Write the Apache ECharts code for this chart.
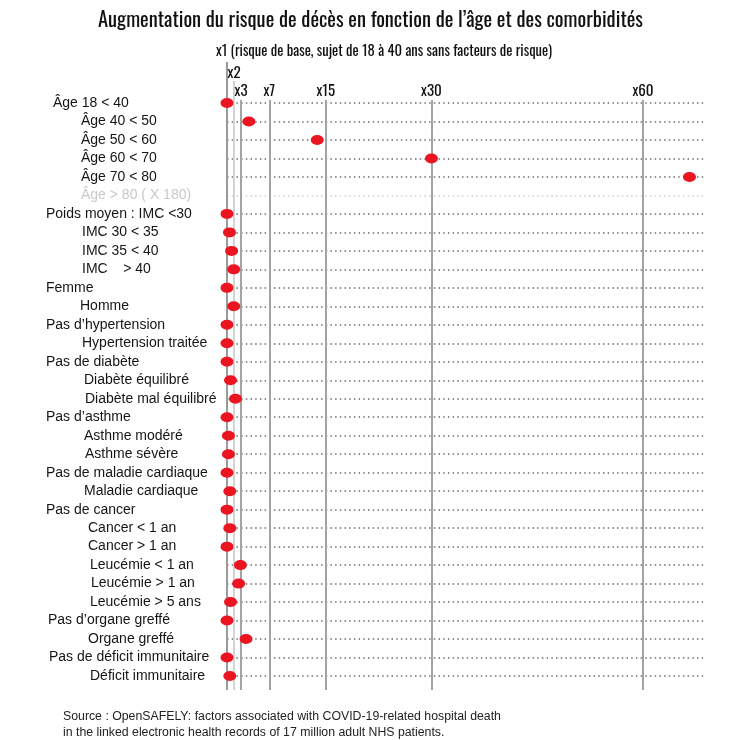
<!DOCTYPE html>
<html><head><meta charset="utf-8">
<script src="https://cdn.jsdelivr.net/npm/echarts@6/dist/echarts.min.js"></script>
<style>html,body{margin:0;padding:0;background:#fff}#c{width:730px;height:740px}</style>
</head><body><div id="c"></div>
<script>
// ---------- data ----------
const categories = [
  'Âge 18 < 40', 'Âge 40 < 50', 'Âge 50 < 60', 'Âge 60 < 70', 'Âge 70 < 80', 'Âge > 80 ( X 180)',
  'Poids moyen : IMC <30', 'IMC 30 < 35', 'IMC 35 < 40', 'IMC    > 40',
  'Femme', 'Homme',
  'Pas d’hypertension', 'Hypertension traitée',
  'Pas de diabète', 'Diabète équilibré', 'Diabète mal équilibré',
  'Pas d’asthme', 'Asthme modéré', 'Asthme sévère',
  'Pas de maladie cardiaque', 'Maladie cardiaque',
  'Pas de cancer', 'Cancer < 1 an', 'Cancer > 1 an',
  'Leucémie < 1 an', 'Leucémie > 1 an', 'Leucémie > 5 ans',
  'Pas d’organe greffé', 'Organe greffé',
  'Pas de déficit immunitaire', 'Déficit immunitaire'
];
// risk multiplier (x1 = baseline); null = off the chart (Âge > 80 = x180)
const riskValues = [
  1.0, 4.1, 13.8, 30, 66.6, null,
  1.0, 1.35, 1.65, 1.95,
  1.0, 1.95,
  1.0, 1.0,
  1.0, 1.5, 2.2,
  1.0, 1.2, 1.2,
  1.0, 1.4,
  1.0, 1.4, 1.0,
  2.9, 2.65, 1.5,
  1.0, 3.7,
  1.0, 1.4
];
const refLineValues = [1, 2, 3, 7, 15, 30, 60];
const refLineLabels = ['x1 (risque de base, sujet de 18 à 40 ans sans facteurs de risque)', 'x2', 'x3', 'x7', 'x15', 'x30', 'x60'];
const titleText = 'Augmentation du risque de décès en fonction de l’âge et des comorbidités';
const sourceText = 'Source : OpenSAFELY: factors associated with COVID-19-related hospital death\nin the linked electronic health records of 17 million adult NHS patients.';

// ---------- layout / style ----------
const labelIndent = [7,35,35,35,35,35, 0,36,36,36, 0,34, 0,36, 0,38,39, 0,38,39, 0,38, 0,42,42, 44,45,44, 2,42, 3,44];
const mutedRows = [5];
const condensed = "'Oswald','Liberation Sans Narrow','DejaVu Sans Condensed','Roboto Condensed',sans-serif";
const sans = "'Liberation Sans','Arial','Helvetica',sans-serif";
const xMin = 1, xMax = 69;
const lineTop = {1: -2.22, 2: -1.19};
const lineTopDefault = -0.16, lineBottom = 31.76;
const refLineColor = {1: '#9a9a9a', 2: '#d4d4d4'};

const rich = {};
categories.forEach((c, i) => {
  rich['r' + i] = {
    padding: [0, 0, 0, labelIndent[i]],
    color: mutedRows.includes(i) ? '#c9c9c9' : '#151515',
    fontSize: 14, fontFamily: sans
  };
});

const points = [];
riskValues.forEach((v, i) => { if (v !== null) points.push([v, i]); });

const rowLines = categories.map((c, i) => [
  { coord: [xMin, i], lineStyle: { color: mutedRows.includes(i) ? '#cfcfcf' : '#6e6e6e', type: [1.5, 3.2], width: 1.5, cap: 'butt' }, label: { show: false } },
  { coord: [xMax, i] }
]);
const vLines = refLineValues.map((v, k) => [
  {
    coord: [v, lineBottom],
    lineStyle: { color: refLineColor[v] || '#a3a3a3', type: 'solid', width: 2 },
    label: {
      show: k > 0, position: 'end', formatter: refLineLabels[k],
      color: '#111', fontFamily: condensed, fontSize: 15, distance: v === 2 ? 0 : 1
    }
  },
  { coord: [v, lineTop[v] !== undefined ? lineTop[v] : lineTopDefault] }
]);

const chart = echarts.init(document.getElementById('c'), null, { renderer: 'canvas' });
const option = {
  backgroundColor: '#ffffff',
  animation: false,
  title: [
    { text: titleText, left: 93, top: 5,
      textStyle: { fontFamily: condensed, fontSize: 20.5, fontWeight: 'normal', color: '#111' } },
    { text: sourceText, left: 58, top: 704,
      textStyle: { fontFamily: sans, fontSize: 12.3, fontWeight: 'normal', color: '#222', lineHeight: 16 } }
  ],
  grid: { left: 227, right: 23.6, top: 47.55, bottom: 45.5, containLabel: false },
  xAxis: {
    type: 'value', min: xMin, max: xMax, show: false
  },
  yAxis: {
    type: 'value', inverse: true, min: -3, max: 32, interval: 1,
    axisLine: { show: false }, axisTick: { show: false }, splitLine: { show: false },
    axisLabel: {
      align: 'left', margin: 181,
      showMinLabel: true, showMaxLabel: true, hideOverlap: false,
      formatter: v => (Number.isInteger(v) && v >= 0 && v < categories.length) ? '{r' + v + '|' + categories[v] + '}' : '',
      rich: rich
    }
  },
  series: [
    {
      type: 'scatter', z: 10, clip: false,
      symbol: 'path://M0,5 A6,5 0 1 1 12,5 A6,5 0 1 1 0,5 Z',
      symbolSize: [13, 10],
      itemStyle: { color: '#ea1520', opacity: 1 },
      data: points,
      markLine: {
        silent: true, symbol: 'none', animation: false,
        data: rowLines.concat(vLines)
      }
    }
  ]
};
chart.setOption(option);

// x1 caption anchored to the x1 reference line
const p = chart.convertToPixel({ gridIndex: 0 }, [refLineValues[0], -2.8]);
chart.setOption({
  graphic: [{
    type: 'text', x: p[0] - 11, y: p[1],
    style: { text: refLineLabels[0], font: '14.6px ' + condensed, fill: '#111', textVerticalAlign: 'middle', textAlign: 'left' }
  }]
});
</script>
</body></html>
